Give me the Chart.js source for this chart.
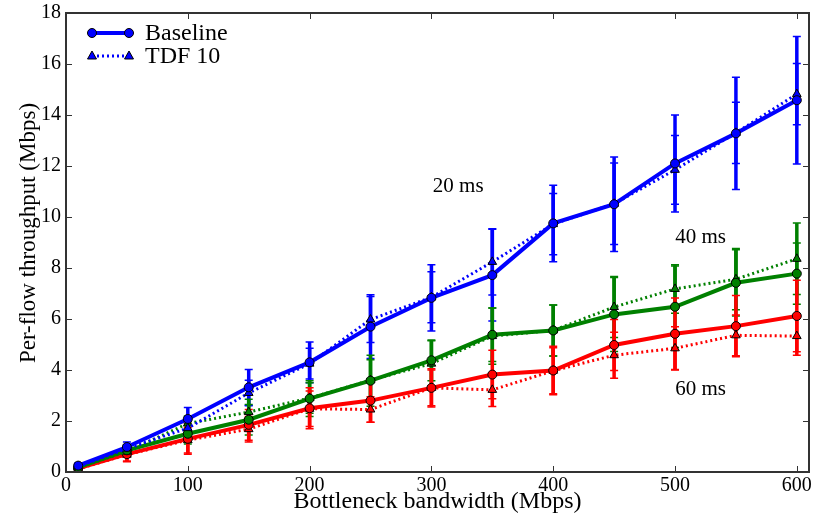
<!DOCTYPE html>
<html>
<head>
<meta charset="utf-8">
<script src="https://cdn.jsdelivr.net/npm/chart.js@4/dist/chart.umd.min.js"></script>
<style>
  html, body { margin: 0; padding: 0; background: #fff; }
  #wrap { width: 815px; height: 516px; position: relative; }
</style>
</head>
<body>
<div id="wrap"><canvas id="chart"></canvas></div>
<script>
// bottleneck bandwidth (Mbps)
const bandwidth = [10, 50, 100, 150, 200, 250, 300, 350, 400, 450, 500, 550, 600];

// per-flow throughput (Mbps), 20 / 40 / 60 ms RTT
const base20 = [0.25, 0.98, 2.08, 3.32, 4.3, 5.7, 6.83, 7.72, 9.75, 10.5, 12.1, 13.28, 14.58];
const tdf20  = [0.22, 0.92, 1.72, 3.1, 4.25, 5.98, 6.85, 8.24, 9.72, 10.52, 11.85, 13.3, 14.82];
const base40 = [0.18, 0.85, 1.5, 2.05, 2.88, 3.58, 4.38, 5.38, 5.55, 6.18, 6.48, 7.42, 7.78];
const tdf40  = [0.18, 0.8, 1.9, 2.35, 2.9, 3.6, 4.25, 5.33, 5.55, 6.47, 7.18, 7.56, 8.36];
const base60 = [0.14, 0.7, 1.3, 1.85, 2.5, 2.8, 3.3, 3.82, 3.98, 4.98, 5.42, 5.72, 6.12];
const tdf60  = [0.12, 0.68, 1.25, 1.68, 2.48, 2.45, 3.3, 3.22, 3.97, 4.58, 4.85, 5.36, 5.33];

// error bar half-widths
const base20Err = [0.1, 0.2, 0.45, 0.7, 0.8, 1.25, 1.3, 1.8, 1.5, 1.85, 1.9, 2.2, 2.5];
const tdf20Err  = [0.1, 0.15, 0.3, 0.5, 0.6, 0.9, 1.0, 1.3, 1.2, 1.6, 1.35, 1.2, 1.2];
const base40Err = [0.1, 0.2, 0.4, 0.6, 0.7, 1.0, 0.8, 1.05, 1.0, 1.45, 1.6, 1.3, 1.2];
const tdf40Err  = [0.1, 0.2, 0.3, 0.5, 0.6, 0.8, 0.9, 1.1, 1.0, 1.2, 0.95, 1.2, 1.4];
const base60Err = [0.1, 0.3, 0.6, 0.6, 0.8, 0.85, 0.75, 0.95, 0.95, 1.0, 1.4, 1.2, 1.4];
const tdf60Err  = [0.1, 0.25, 0.5, 0.5, 0.7, 0.5, 0.7, 0.65, 0.9, 0.9, 0.85, 0.8, 0.75];

const xTicks = [0, 100, 200, 300, 400, 500, 600];
const yTicks = [0, 2, 4, 6, 8, 10, 12, 14, 16, 18];

const legendLabels = ['Baseline', 'TDF 10'];
const yTitle = 'Per-flow throughput (Mbps)';
const rttLabels = [
  { text: '20 ms', x: 322, y: 11.2 },
  { text: '40 ms', x: 521, y: 9.2 },
  { text: '60 ms', x: 521, y: 3.22 },
];

const BLUE = '#0000ff', GREEN = '#008000', RED = '#ff0000';
const SERIF = '"Liberation Serif", "DejaVu Serif", serif';

function series(values, errs, color, tdf) {
  return {
    data: bandwidth.map((x, i) => ({ x, y: values[i] })),
    errs,
    showLine: true,
    borderColor: color,
    backgroundColor: color,
    borderWidth: tdf ? 3 : 4,
    borderDash: tdf ? [2, 3] : [],
    pointStyle: tdf ? 'triangle' : 'circle',
    pointRadius: tdf ? 5 : 4.5,
    pointBorderColor: '#000',
    pointBorderWidth: 1,
    pointBackgroundColor: color,
  };
}

const errorBars = {
  id: 'errorBars',
  beforeDatasetsDraw(chart) {
    const { ctx, scales: { x, y } } = chart;
    ctx.save();
    chart.data.datasets.forEach(ds => {
      ctx.strokeStyle = ds.borderColor;
      ds.data.forEach((p, i) => {
        const px = x.getPixelForValue(p.x);
        const top = y.getPixelForValue(p.y + ds.errs[i]);
        const bot = y.getPixelForValue(Math.max(0, p.y - ds.errs[i]));
        ctx.lineWidth = 3.5;
        ctx.beginPath();
        ctx.moveTo(px, top); ctx.lineTo(px, bot);
        ctx.stroke();
        ctx.lineWidth = 1.5;
        ctx.beginPath();
        ctx.moveTo(px - 4, top); ctx.lineTo(px + 4, top);
        ctx.moveTo(px - 4, bot); ctx.lineTo(px + 4, bot);
        ctx.stroke();
      });
    });
    ctx.restore();
  }
};

const frame = {
  id: 'frame',
  afterDraw(chart) {
    const { ctx, chartArea: a, scales: { x, y } } = chart;
    ctx.save();
    ctx.strokeStyle = '#333';
    ctx.lineWidth = 1;
    ctx.beginPath();
    xTicks.forEach(v => {
      const px = Math.round(x.getPixelForValue(v)) + 0.5;
      ctx.moveTo(px, a.bottom); ctx.lineTo(px, a.bottom - 6);
      ctx.moveTo(px, a.top); ctx.lineTo(px, a.top + 6);
    });
    yTicks.forEach(v => {
      const py = Math.round(y.getPixelForValue(v)) + 0.5;
      ctx.moveTo(a.left, py); ctx.lineTo(a.left + 6, py);
      ctx.moveTo(a.right, py); ctx.lineTo(a.right - 6, py);
    });
    ctx.stroke();
    ctx.lineWidth = 2;
    ctx.strokeRect(a.left, a.top, a.right - a.left, a.bottom - a.top);

    // y axis title, a little above centre as in the original
    ctx.fillStyle = '#000';
    ctx.font = '23px ' + SERIF;
    ctx.textAlign = 'center';
    ctx.textBaseline = 'middle';
    ctx.save();
    ctx.translate(29, 233);
    ctx.rotate(-Math.PI / 2);
    ctx.fillText(yTitle, 0, 0);
    ctx.restore();

    // rtt annotations
    ctx.font = '21px ' + SERIF;
    rttLabels.forEach(l => ctx.fillText(l.text, x.getPixelForValue(l.x), y.getPixelForValue(l.y)));

    // legend
    ctx.font = '24px ' + SERIF;
    ctx.textAlign = 'left';
    legendLabels.forEach((label, i) => {
      const ly = a.top + 20 + i * 23;
      const x0 = a.left + 26, x1 = a.left + 63;
      const tdf = i === 1;
      ctx.strokeStyle = BLUE;
      ctx.lineWidth = tdf ? 3 : 4;
      ctx.setLineDash(tdf ? [2, 3] : []);
      ctx.beginPath(); ctx.moveTo(x0, ly); ctx.lineTo(x1, ly); ctx.stroke();
      ctx.setLineDash([]);
      ctx.fillStyle = BLUE;
      ctx.strokeStyle = '#000';
      ctx.lineWidth = 1;
      [x0, x1].forEach(mx => {
        ctx.beginPath();
        if (tdf) {
          ctx.moveTo(mx, ly - 5); ctx.lineTo(mx + 4.5, ly + 3); ctx.lineTo(mx - 4.5, ly + 3); ctx.closePath();
        } else {
          ctx.arc(mx, ly, 4.5, 0, Math.PI * 2);
        }
        ctx.fill(); ctx.stroke();
      });
      ctx.fillStyle = '#000';
      ctx.fillText(label, a.left + 79, ly + 1);
    });
    ctx.restore();
  }
};

new Chart(document.getElementById('chart'), {
  type: 'scatter',
  data: {
    datasets: [
      series(base20, base20Err, BLUE, false),
      series(tdf20, tdf20Err, BLUE, true),
      series(base40, base40Err, GREEN, false),
      series(tdf40, tdf40Err, GREEN, true),
      series(base60, base60Err, RED, false),
      series(tdf60, tdf60Err, RED, true),
    ]
  },
  options: {
    responsive: true,
    maintainAspectRatio: false,
    animation: false,
    layout: { padding: { top: 13, right: 5, left: 0, bottom: 0 } },
    plugins: { legend: { display: false }, tooltip: { enabled: false } },
    scales: {
      x: {
        type: 'linear', min: 0, max: 610,
        afterBuildTicks: s => { s.ticks = xTicks.map(v => ({ value: v })); },
        afterFit: s => { s.height = 44; s.paddingLeft = 0; s.paddingRight = 0; },
        grid: { display: false, drawTicks: false },
        border: { display: false },
        ticks: { color: '#000', padding: 2, font: { family: SERIF, size: 20 } },
        title: { display: true, text: 'Bottleneck bandwidth (Mbps)', color: '#000', padding: 0,
                 font: { family: SERIF, size: 24 } },
      },
      y: {
        min: 0, max: 18,
        afterBuildTicks: s => { s.ticks = yTicks.map(v => ({ value: v })); },
        afterFit: s => { s.width = 66; s.paddingTop = 0; s.paddingBottom = 0; },
        grid: { display: false, drawTicks: false },
        border: { display: false },
        ticks: { color: '#000', padding: 5, font: { family: SERIF, size: 20 } },
        title: { display: false },
      },
    },
  },
  plugins: [errorBars, frame],
});
</script>
</body>
</html>
